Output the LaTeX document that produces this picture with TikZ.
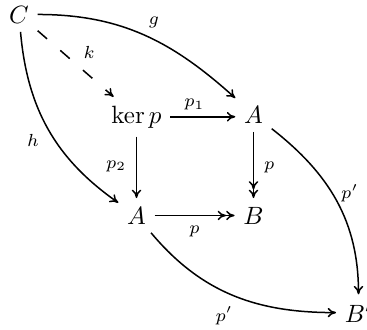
\documentclass[tikz,border=0pt]{standalone}
\usetikzlibrary{arrows.meta}
\begin{document}
\begin{tikzpicture}[x=0.4pt,y=0.4pt,
  obj/.style={anchor=base, inner sep=3.33pt},
  lab/.style={font=\scriptsize, inner sep=2.33pt},
  tip/.tip={To[length=3.4pt,width=3.8pt]},
  arr/.style={line width=0.6pt, -{tip}},
  epi/.style={line width=0.6pt, -{tip[]tip[]}},
  dsh/.style={arr, dash pattern=on 5pt off 7pt}]
\useasboundingbox (0,0) rectangle (367,329);
\node[obj] (C)    at (19,306)    {$C$};
\node[obj] (kerp) at (136.5,206) {$\ker p$};
\node[obj] (A1)   at (253.5,206) {$A$};
\node[obj] (A2)   at (136.5,105) {$A$};
\node[obj] (B)    at (253.5,105) {$B$};
\node[obj] (Bp)   at (358.5,7)   {$B'$};
% arrows
\draw[arr] (C) to[out=0,in=138] node[lab,pos=0.55,above=2pt] {$g$} (A1);
\draw[dsh] (C) -- (kerp) node[lab,pos=0.52,above right] {$k$};
\draw[arr] (C) to[out=-85,in=145] node[lab,pos=0.57,left=4pt] {$h$} (A2);
\draw[arr] (kerp.east) -- (kerp.east -| A1.west) node[lab,pos=0.37,above] {$p_1$};
\draw[arr] (kerp) -- (A2) node[lab,pos=0.48,left=1.5pt] {$p_2$};
\draw[epi] (A1) -- (B) node[lab,pos=0.53,right=1.6pt] {$p$};
\draw[epi] (A2) -- (B) node[lab,pos=0.5,below=1.4pt] {$p$};
\draw[arr] (A1) to[out=-38,in=90] node[lab,pos=0.45,right=1pt] {$p'$} (Bp);
\draw[arr] (A2) to[out=-50,in=180] node[lab,pos=0.45,below=3.5pt] {$p'$} (Bp);
\end{tikzpicture}
\end{document}
